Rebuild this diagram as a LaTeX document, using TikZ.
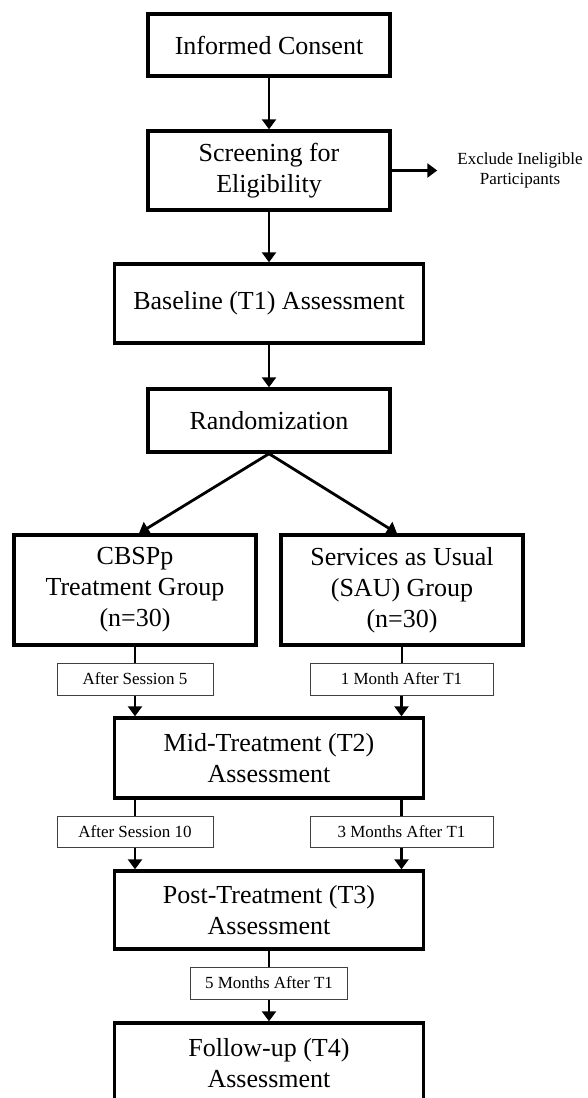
\documentclass[tikz,border=0pt]{standalone}
\usepackage{fontspec}
\setmainfont{Liberation Serif}
\usetikzlibrary{arrows.meta}
\begin{document}
\begin{tikzpicture}[x=1pt,y=-1pt,
  bigbox/.style={draw, line width=3.4pt, align=center, inner sep=0pt,
    font=\fontsize{26}{31}\selectfont},
  smallbox/.style={draw=black!75, line width=1pt, inner sep=0pt,
    font=\fontsize{17}{20}\selectfont},
  conn/.style={line width=2.8pt},
  arr/.style={conn, -{Triangle[length=10pt,width=14pt]}}]
\useasboundingbox (0,0) rectangle (587,1098);
\node[bigbox, minimum width=242pt, minimum height=62pt] (ic) at (269,45) {Informed Consent};
\node[bigbox, minimum width=242pt, minimum height=79pt] (scr) at (269,170.5) {Screening for\\Eligibility};
\node[align=center, inner sep=0pt, font=\fontsize{17}{20}\selectfont] (excl) at (520,170) {Exclude Ineligible\\Participants};
\node[bigbox, minimum width=309pt, minimum height=79pt] (base) at (269,303.5) {Baseline (T1) Assessment};
\node[bigbox, minimum width=242pt, minimum height=63pt] (rand) at (269,420.5) {Randomization};
\node[bigbox, minimum width=242pt, minimum height=110pt] (cbs) at (135,590) {CBSPp\\Treatment Group\\(n=30)};
\node[bigbox, minimum width=242pt, minimum height=110pt] (sau) at (402,590) {Services as Usual\\(SAU) Group\\(n=30)};
\node[smallbox, minimum width=156pt, minimum height=32pt] (s5) at (135,679) {After Session 5};
\node[smallbox, minimum width=183pt, minimum height=32pt] (m1) at (401.5,679) {1 Month After T1};
\node[bigbox, minimum width=309pt, minimum height=80pt] (mid) at (269,758) {Mid-Treatment (T2)\\Assessment};
\node[smallbox, minimum width=156pt, minimum height=31pt] (s10) at (135,831.5) {After Session 10};
\node[smallbox, minimum width=183pt, minimum height=31pt] (m3) at (401.5,831.5) {3 Months After T1};
\node[bigbox, minimum width=309pt, minimum height=78pt] (post) at (269,910) {Post-Treatment (T3)\\Assessment};
\node[smallbox, minimum width=157pt, minimum height=32pt] (m5) at (269,983) {5 Months After T1};
\node[bigbox, minimum width=309pt, minimum height=80pt] (fu) at (269,1063) {Follow-up (T4)\\Assessment};

\draw[arr] (ic.south) -- (scr.north);
\draw[arr, shorten >=20pt] (scr.east) -- (scr.east -| excl.west);
\draw[arr] (scr.south) -- (base.north);
\draw[arr] (base.south) -- (rand.north);
\draw[arr] (rand.south) -- ([xshift=4pt]cbs.north);
\draw[arr] (rand.south) -- ([xshift=-5pt]sau.north);
\draw[conn] (cbs.south) -- (s5.north);
\draw[conn] (sau.south) -- (sau.south |- m1.north);
\draw[arr] (s5.south) -- (s5.south |- mid.north);
\draw[arr] (m1.south) -- (m1.south |- mid.north);
\draw[conn] (s5.south |- mid.south) -- (s10.north);
\draw[conn] (m1.south |- mid.south) -- (m1.south |- m3.north);
\draw[arr] (s10.south) -- (s10.south |- post.north);
\draw[arr] (m3.south) -- (m3.south |- post.north);
\draw[conn] (post.south) -- (m5.north);
\draw[arr] (m5.south) -- (fu.north);
\end{tikzpicture}
\end{document}
